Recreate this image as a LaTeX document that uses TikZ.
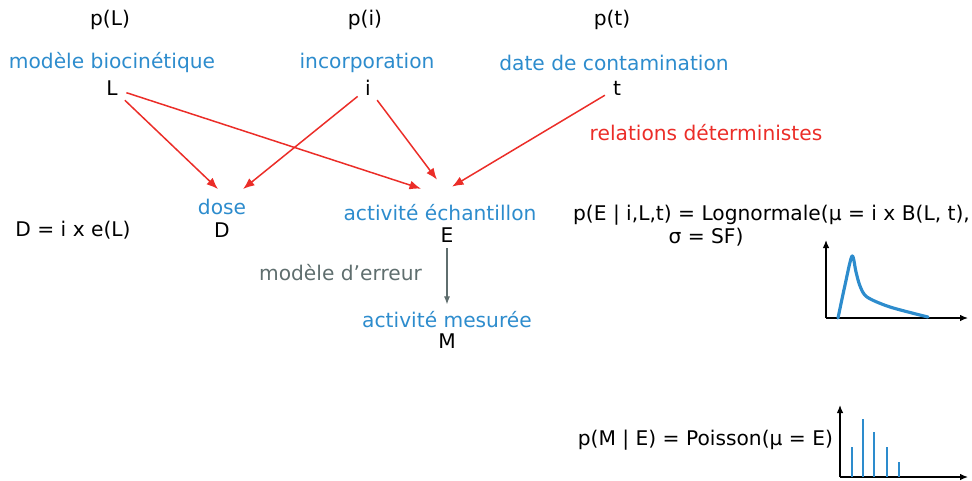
\documentclass[tikz,border=0pt]{standalone}
\usepackage{fontspec}
\setmainfont{DejaVu Sans}
\usepackage{tikz}
\usetikzlibrary{arrows.meta, positioning, calc}

\definecolor{bleu}{RGB}{45,140,205}
\definecolor{rouge}{RGB}{235,45,40}
\definecolor{gris}{RGB}{95,110,110}

\begin{document}
\begin{tikzpicture}[
        x=0.02cm, y=-0.02cm,
        every node/.style={font=\fontsize{11.5}{13.5}\selectfont, inner sep=1pt},
        lbl/.style={text=bleu},
        det/.style={-{Latex[length=2.3mm, width=1.8mm]}, draw=rouge, line width=0.85pt, shorten <=4pt},
        err/.style={-{Latex[length=1.6mm, width=1.2mm]}, draw=gris, line width=0.6pt, shorten <=2pt, shorten >=3pt},
        axe/.style={-{Latex[length=1.6mm, width=1.3mm]}, draw=black, line width=0.7pt},
        densite/.style={draw=bleu, line width=1.8pt, line join=round, line cap=round},
        pic/.style={draw=bleu, line width=0.9pt}
        ]

    \useasboundingbox (0,0) rectangle (972,480);

    % --- Niveau 1: lois a priori ---
        \node (pL) at (110,20) {p(L)};
        \node (pi) at (365,20) {p(i)};
        \node (pt) at (612,20) {p(t)};

        \node[lbl] (bio) at (112,63) {modèle biocinétique};
        \node[lbl] (inc) at (367,63) {incorporation};
        \node[lbl] (date) at (614,63) {date de contamination};

        \node (L) at (112,88) {L};
        \node (i) at (368,88) {i};
        \node (t) at (617,88) {t};

        \node[text=rouge] (rel) at (706,133) {relations déterministes};

    % --- Niveau 2: dose et activité ---
        \node[lbl] (dose) at (222,207) {dose};
        \node (D) at (222,230) {D};
        \node (fD) at (73,230) {D = i x e(L)};

        \node[lbl] (ech) at (440,213) {activité échantillon};
        \node (E) at (447,235) {E};

        \node[anchor=west] (fE) at (571,215) {p(E | i,L,t) = Lognormale(μ = i x B(L, t),};
        \node (fE2) at (706,237) {σ = SF)};

        \draw[det] (L) -- ($(dose.north)+(-4,-8)$);
        \draw[det] (i) -- ($(dose.north)+(21,-8)$);
        \draw[det] (L) -- ($(ech.north)+(-19,-14)$);
        \draw[det] (i) -- ($(ech.north)+(-3,-23)$);
        \draw[det] (t) -- ($(ech.north)+(12,-16)$);

    % --- Niveau 3: mesure ---
        \node[lbl] (mes) at (447,320) {activité mesurée};
        \node (M) at (447,341) {M};
        \node[text=gris, anchor=east] (erreur) at (424,273) {modèle d’erreur};

        \draw[err] (E) -- (mes);

        \node[anchor=east] (fM) at (835,440) {p(M | E) = Poisson(μ = E)};

    % --- Densités ---
        \draw[axe] (826,318) -- (826,240);
        \draw[axe] (826,318) -- (968,318);
        \draw[densite] plot[smooth, tension=0.5] coordinates
            {(838,318) (845,285) (852,256) (856,272) (860,286) (867,297) (890,307) (928,317)};

        \draw[axe] (840,477) -- (840,405);
        \draw[axe] (840,477) -- (968,477);
        \foreach \x/\h in {852/447, 863/419, 874/432, 887/447, 899/462}
            \draw[pic] (\x,477) -- (\x,\h);

    \end{tikzpicture}
\end{document}
